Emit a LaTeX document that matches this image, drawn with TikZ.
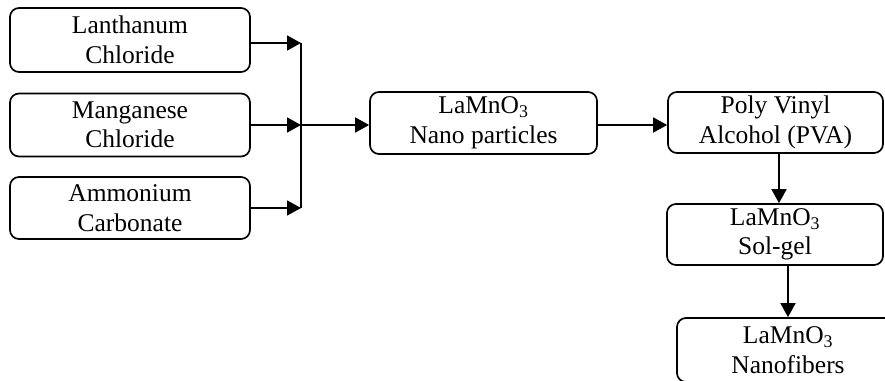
\documentclass[tikz,border=0pt]{standalone}
\usepackage{fontspec}
\setmainfont{Liberation Serif}
\usetikzlibrary{arrows.meta}
\begin{document}
\begin{tikzpicture}[x=1pt, y=-1pt, >={Triangle[length=14pt,width=15pt]}, line width=1.7pt,
  box/.style={draw, rounded corners=9pt, align=center, inner sep=0pt, font=\fontsize{25.5}{29.5}\selectfont}]
\useasboundingbox (0,0) rectangle (885,380);
\clip (0,0) rectangle (885,380);
\node[box, minimum width=240pt, minimum height=64pt] (lan) at (130,40) {Lanthanum\\Chloride};
\node[box, minimum width=240pt, minimum height=63pt] (mang) at (130,125) {Manganese\\Chloride};
\node[box, minimum width=240pt, minimum height=62pt] (amm) at (130,208) {Ammonium\\Carbonate};
\node[box, minimum width=227pt, minimum height=62pt] (nano) at (483.5,123) {LaMnO\textsubscript{3}\\Nano particles};
\node[box, minimum width=215pt, minimum height=61pt] (pva) at (775.5,122.5) {Poly Vinyl\\Alcohol (PVA)};
\node[box, minimum width=216pt, minimum height=61pt] (sol) at (775,234.5) {LaMnO\textsubscript{3}\\Sol-gel};
\node[box, minimum width=222pt, minimum height=64pt] (fib) at (788,350) {LaMnO\textsubscript{3}\\Nanofibers};
\coordinate (bus) at (301,125);
\draw[->] ([yshift=-3pt]lan.east) -- ([yshift=-3pt]lan.east -| bus);
\draw[->] (mang) -- (mang -| bus);
\draw[->] (amm) -- (amm -| bus);
\draw ([yshift=-3pt]lan.east -| bus) -- (amm -| bus);
\draw[->] (bus) -- (bus -| nano.west);
\draw[->] (bus -| nano.east) -- (bus -| pva.west);
\draw[->] ([xshift=3.5pt]pva.south) -- ([xshift=4pt]sol.north);
\draw[->] (sol.south -| fib) -- (fib.north);
\end{tikzpicture}
\end{document}
